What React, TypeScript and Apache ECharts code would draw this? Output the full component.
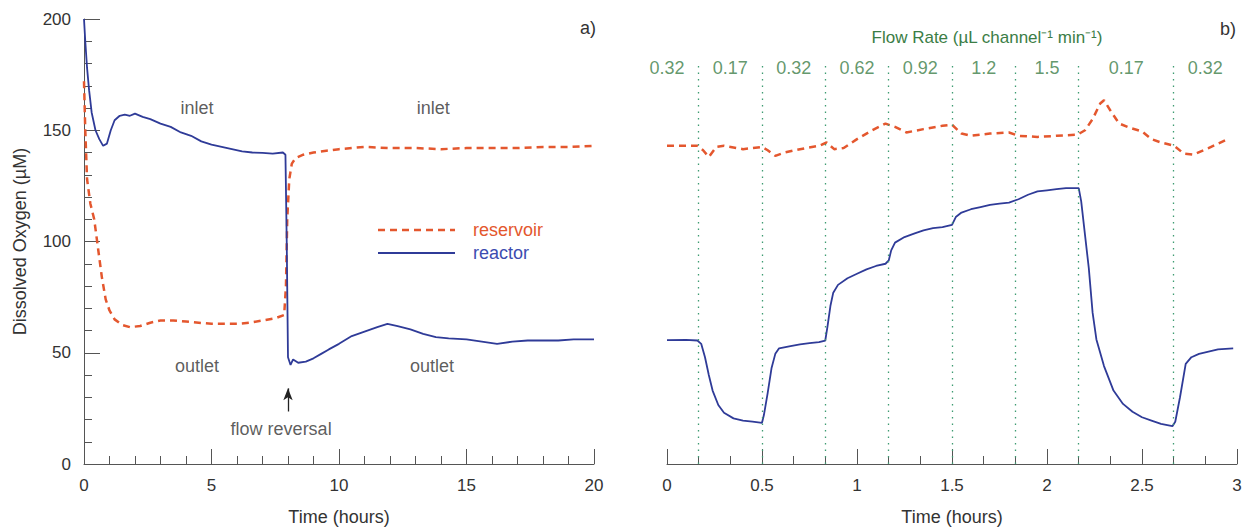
import React, { useEffect, useRef } from "react";
import * as echarts from "echarts";

// Panel a) long run, time in hours
const leftReactor: [number, number][] = [
  [0, 200], [0.05, 190], [0.12, 178], [0.2, 168], [0.3, 158], [0.45, 150], [0.6, 146],
  [0.75, 143], [0.9, 144], [1.05, 150], [1.2, 154.5], [1.4, 156.5], [1.6, 157], [1.8, 156.5],
  [2.0, 157.5], [2.3, 156], [2.6, 155], [3.0, 153], [3.4, 151.5], [3.8, 149], [4.2, 147.5],
  [4.6, 145], [5.0, 143.5], [5.4, 142.5], [5.8, 141.5], [6.2, 140.5], [6.6, 140], [7.0, 139.8],
  [7.4, 139.5], [7.8, 140], [7.9, 139], [7.95, 100], [8.0, 48], [8.1, 44.5], [8.2, 47],
  [8.4, 45.5], [8.7, 46], [9.0, 47.5], [9.3, 49.5], [9.6, 51.5], [10.0, 54], [10.5, 57.5],
  [11.0, 59.5], [11.5, 61.5], [11.9, 63], [12.3, 62], [12.8, 60.5], [13.3, 58.5], [13.8, 57],
  [14.3, 56.5], [15.0, 56], [15.6, 55], [16.2, 54], [16.8, 55], [17.4, 55.5], [18.0, 55.5],
  [18.6, 55.5], [19.2, 56], [20.0, 56],
];

const leftReservoir: [number, number][] = [
  [0, 172], [0.05, 150], [0.12, 128], [0.25, 117], [0.4, 110], [0.55, 97], [0.7, 84],
  [0.85, 74], [1.0, 69], [1.2, 65], [1.5, 62.5], [1.8, 61.5], [2.2, 62], [2.6, 63.5],
  [3.0, 64.5], [3.5, 64.5], [4.0, 64], [4.5, 63.5], [5.0, 63], [5.5, 63], [6.0, 63],
  [6.5, 63.5], [7.0, 64.5], [7.5, 65.5], [7.85, 67], [7.92, 80], [7.97, 110], [8.05, 128],
  [8.15, 135], [8.3, 137.5], [8.6, 139], [9.0, 140], [9.5, 140.8], [10.0, 141.5], [10.5, 142],
  [11.0, 142.5], [12.0, 142], [13.0, 142], [14.0, 141.5], [15.0, 142], [16.0, 142], [17.0, 142],
  [18.0, 142.5], [19.0, 142.5], [20.0, 143],
];

// Panel b) flow-rate steps, time in hours
const rightReactor: [number, number][] = [
  [0, 55.7], [0.1, 55.8], [0.16, 55.5], [0.18, 54], [0.2, 48], [0.22, 40], [0.24, 33],
  [0.27, 26.5], [0.3, 23], [0.35, 20.5], [0.4, 19.5], [0.45, 19], [0.5, 18.5], [0.51, 22],
  [0.53, 32], [0.55, 43], [0.57, 49.5], [0.59, 52], [0.65, 53], [0.7, 53.8], [0.75, 54.3],
  [0.8, 54.8], [0.833, 55.5], [0.845, 62], [0.86, 71], [0.875, 77], [0.9, 80.5], [0.95, 83.5],
  [1.0, 85.5], [1.05, 87.5], [1.1, 89], [1.15, 90], [1.167, 91.5], [1.18, 96], [1.2, 99.5],
  [1.25, 102], [1.3, 103.5], [1.35, 105], [1.4, 106], [1.45, 106.5], [1.5, 107.5], [1.52, 111],
  [1.55, 113], [1.6, 114.5], [1.65, 115.5], [1.7, 116.5], [1.75, 117], [1.8, 117.5], [1.85, 119],
  [1.9, 121], [1.95, 122.5], [2.0, 123], [2.05, 123.5], [2.1, 124], [2.167, 124], [2.18, 118],
  [2.2, 103], [2.22, 88], [2.24, 68], [2.26, 56], [2.3, 44], [2.35, 33], [2.4, 27], [2.45, 23.5],
  [2.5, 21], [2.55, 19.5], [2.6, 18], [2.66, 17], [2.675, 19], [2.7, 30], [2.73, 45], [2.76, 48],
  [2.8, 49.5], [2.85, 50.5], [2.9, 51.5], [2.98, 52],
];

const rightReservoir: [number, number][] = [
  [0, 143], [0.1, 143], [0.16, 143], [0.19, 141], [0.22, 138], [0.26, 142.5], [0.3, 143],
  [0.4, 141.5], [0.5, 142.5], [0.53, 141], [0.57, 138.5], [0.62, 140], [0.7, 141.5], [0.8, 143],
  [0.84, 144.5], [0.88, 141.5], [0.93, 142], [1.0, 146], [1.08, 150], [1.15, 153], [1.2, 151.5],
  [1.26, 149], [1.35, 150.5], [1.45, 152], [1.5, 152.5], [1.55, 148.5], [1.6, 147.5], [1.7, 148.5],
  [1.8, 149], [1.85, 147.5], [1.95, 147], [2.05, 147.5], [2.16, 148], [2.2, 150], [2.24, 155],
  [2.28, 162], [2.3, 163.5], [2.34, 158], [2.38, 153], [2.44, 151], [2.5, 149.5], [2.55, 146],
  [2.6, 144.5], [2.67, 143], [2.72, 139.5], [2.77, 139], [2.85, 142], [2.95, 146],
];

// Flow-rate changes (minutes) and the rate of each interval (µL channel⁻¹ min⁻¹)
const changeMinutes = [10, 30, 50, 70, 90, 110, 130, 160];
const segmentEdgesMinutes = [-10, ...changeMinutes, 180];
const flowRates = ["0.32", "0.17", "0.32", "0.62", "0.92", "1.2", "1.5", "0.17", "0.32"];

const yTicks = [0, 50, 100, 150, 200];
const leftXTicks = [0, 5, 10, 15, 20];
const rightXTicks = [0, 0.5, 1, 1.5, 2, 2.5, 3];

const BLUE = "#2f3b98";
const ORANGE = "#e4572e";
const GREEN = "#3b7d46";
const DOT_GREEN = "#3f9c72";
const AXIS = "#555";
const TEXT = "#333";
const FONT = "Arial, 'Liberation Sans', Helvetica, sans-serif";
const FS = 18;

export default function App() {
  const ref = useRef<HTMLDivElement>(null);

  useEffect(() => {
    if (!ref.current) return;
    const chart = echarts.init(ref.current, undefined, { renderer: "svg" });

    const changeHours = changeMinutes.map((m) => m / 60);
    const labelHours = flowRates.map(
      (_, i) => Math.max(0, (segmentEdgesMinutes[i] + segmentEdgesMinutes[i + 1]) / 2 / 60)
    );

    const xAxisCommon = {
      type: "value" as const,
      axisLine: { show: true, lineStyle: { color: AXIS, width: 1 } },
      axisTick: { show: true, inside: true, length: 15, lineStyle: { color: AXIS } },
      minorTick: { show: true, length: 8, lineStyle: { color: AXIS } },
      splitLine: { show: false },
      axisLabel: { color: TEXT, fontSize: 17, fontFamily: FONT, margin: 13 },
      nameLocation: "middle" as const,
      nameGap: 44,
      nameTextStyle: { color: TEXT, fontSize: FS, fontFamily: FONT },
    };

    const option: any = {
      animation: false,
      backgroundColor: "#fff",
      textStyle: { fontFamily: FONT },
      grid: [
        { left: 84, width: 510, top: 19, bottom: 63 },
        { left: 667, width: 570, top: 19, bottom: 63 },
      ],
      xAxis: [
        {
          ...xAxisCommon,
          gridIndex: 0,
          min: leftXTicks[0],
          max: leftXTicks[leftXTicks.length - 1],
          interval: leftXTicks[1] - leftXTicks[0],
          minorTick: { ...xAxisCommon.minorTick, splitNumber: 5 },
          name: "Time (hours)",
        },
        {
          ...xAxisCommon,
          gridIndex: 1,
          min: rightXTicks[0],
          max: rightXTicks[rightXTicks.length - 1],
          interval: rightXTicks[1] - rightXTicks[0],
          minorTick: { ...xAxisCommon.minorTick, splitNumber: 3 },
          name: "Time (hours)",
        },
      ],
      yAxis: [
        {
          type: "value",
          gridIndex: 0,
          min: yTicks[0],
          max: yTicks[yTicks.length - 1],
          interval: yTicks[1] - yTicks[0],
          axisLine: { show: true, lineStyle: { color: AXIS, width: 1 } },
          axisTick: { show: true, inside: true, length: 16, lineStyle: { color: AXIS } },
          minorTick: { show: true, splitNumber: 5, length: 8, lineStyle: { color: AXIS } },
          splitLine: { show: false },
          axisLabel: { color: TEXT, fontSize: 17, fontFamily: FONT, margin: 13 },
          name: "Dissolved Oxygen (µM)",
          nameLocation: "middle",
          nameGap: 55,
          nameTextStyle: { color: TEXT, fontSize: FS, fontFamily: FONT },
        },
        {
          type: "value",
          gridIndex: 1,
          min: yTicks[0],
          max: yTicks[yTicks.length - 1],
          interval: yTicks[1] - yTicks[0],
          axisLine: { show: false },
          axisTick: { show: false },
          axisLabel: { show: false },
          splitLine: { show: false },
        },
      ],
      series: [
        {
          name: "reservoir",
          type: "line",
          xAxisIndex: 0,
          yAxisIndex: 0,
          data: leftReservoir,
          symbol: "none",
          lineStyle: { color: ORANGE, width: 2.5, type: [7, 5] },
          itemStyle: { color: ORANGE },
          z: 2,
        },
        {
          name: "reactor",
          type: "line",
          xAxisIndex: 0,
          yAxisIndex: 0,
          data: leftReactor,
          symbol: "none",
          lineStyle: { color: BLUE, width: 1.8 },
          itemStyle: { color: BLUE },
          z: 3,
        },
        {
          name: "reservoir",
          type: "line",
          xAxisIndex: 1,
          yAxisIndex: 1,
          data: rightReservoir,
          symbol: "none",
          lineStyle: { color: ORANGE, width: 2.5, type: [7, 5] },
          itemStyle: { color: ORANGE },
          z: 2,
        },
        {
          name: "reactor",
          type: "line",
          xAxisIndex: 1,
          yAxisIndex: 1,
          data: rightReactor,
          symbol: "none",
          lineStyle: { color: BLUE, width: 1.8 },
          itemStyle: { color: BLUE },
          z: 3,
          markLine: {
            silent: true,
            symbol: ["none", "none"],
            label: { show: false },
            lineStyle: { color: DOT_GREEN, type: [1.5, 5], width: 1.3 },
            data: changeHours.map((t) => [{ coord: [t, 0] }, { coord: [t, 181] }]),
          },
        },
        {
          name: "flow rates",
          type: "scatter",
          xAxisIndex: 1,
          yAxisIndex: 1,
          symbolSize: 0,
          silent: true,
          data: flowRates.map((r, i) => ({ name: r, value: [labelHours[i], 178] })),
          label: {
            show: true,
            position: "inside",
            formatter: "{b}",
            color: GREEN,
            fontSize: FS,
            fontFamily: FONT,
          },
        },
        {
          name: "notes",
          type: "scatter",
          xAxisIndex: 0,
          yAxisIndex: 0,
          symbolSize: 0,
          silent: true,
          data: [
            { name: "inlet", value: [4.43, 160] },
            { name: "inlet", value: [13.7, 160] },
            { name: "outlet", value: [4.43, 44] },
            { name: "outlet", value: [13.65, 44] },
            { name: "flow reversal", value: [7.73, 15.6] },
          ],
          label: {
            show: true,
            position: "inside",
            formatter: "{b}",
            color: TEXT,
            fontSize: FS,
            fontFamily: FONT,
          },
          markLine: {
            silent: true,
            symbol: ["none", "arrow"],
            symbolSize: [7, 12],
            label: { show: false },
            lineStyle: { color: "#222", type: "solid", width: 1.3 },
            data: [[{ coord: [8, 23.6] }, { coord: [8, 34] }]],
          },
        },
      ],
      graphic: [
        // key for the two traces
        {
          type: "line",
          shape: { x1: 378, y1: 230, x2: 455, y2: 230 },
          style: { stroke: ORANGE, lineWidth: 2.5, lineDash: [7, 5] },
        },
        {
          type: "text",
          x: 473,
          y: 230,
          style: { text: "reservoir", fontSize: FS, fontFamily: FONT, fill: ORANGE, verticalAlign: "middle" },
        },
        {
          type: "line",
          shape: { x1: 378, y1: 253, x2: 455, y2: 253 },
          style: { stroke: BLUE, lineWidth: 1.8 },
        },
        {
          type: "text",
          x: 473,
          y: 253,
          style: { text: "reactor", fontSize: FS, fontFamily: FONT, fill: "#3c4cb0", verticalAlign: "middle" },
        },
        {
          type: "text",
          x: 580,
          y: 28,
          style: { text: "a)", fontSize: FS, fontFamily: FONT, fill: TEXT, verticalAlign: "middle" },
        },
        {
          type: "text",
          x: 1220,
          y: 29,
          style: { text: "b)", fontSize: FS, fontFamily: FONT, fill: TEXT, verticalAlign: "middle" },
        },
        {
          type: "text",
          x: 987,
          y: 37,
          style: {
            text: "Flow Rate (µL channel⁻¹ min⁻¹)",
            fontSize: 17,
            fontFamily: FONT,
            fill: GREEN,
            align: "center",
            verticalAlign: "middle",
          },
        },
      ],
    };

    chart.setOption(option);
    return () => chart.dispose();
  }, []);

  return (
    <div
      ref={ref}
      style={{ position: "fixed", left: 0, top: 0, width: 1260, height: 531, background: "#fff" }}
    />
  );
}
